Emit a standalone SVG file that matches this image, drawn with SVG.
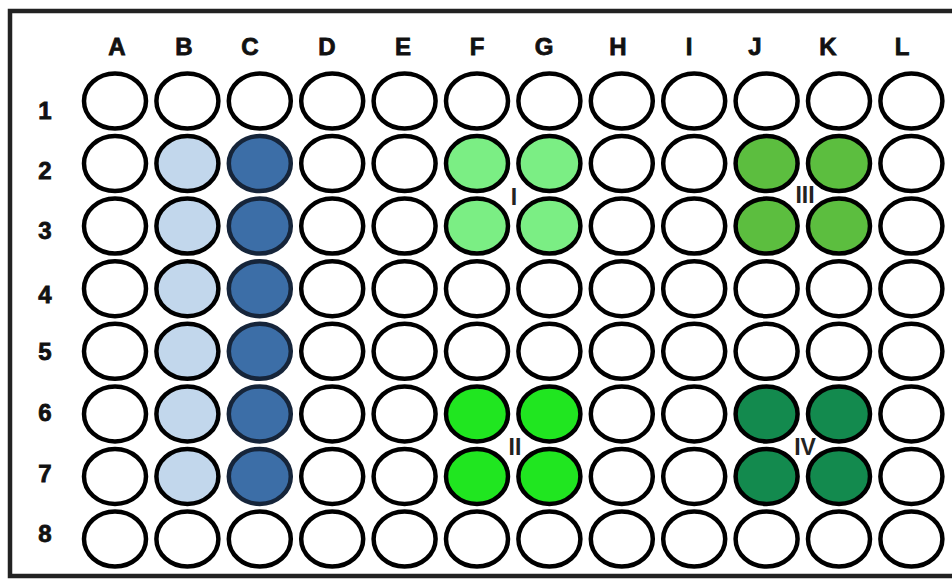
<svg xmlns="http://www.w3.org/2000/svg" width="952" height="581" viewBox="0 0 952 581">
<style>
.lbl{font-family:"Liberation Sans",Arial,sans-serif;font-weight:bold;font-size:24px;fill:#111;stroke:#111;stroke-width:0.8;text-anchor:middle}
.grp{font-family:"Liberation Sans",Arial,sans-serif;font-weight:bold;font-size:23px;fill:#222;text-anchor:middle}
.w{stroke:#000;stroke-width:4.5;fill:#fff}
.b1{fill:#c2d7ec}
.b2{fill:#3c6ea7;stroke:#16253a}
.g1{fill:#7bee84}
.g2{fill:#5cbe3f}
.g3{fill:#20e620}
.g4{fill:#138a4e}
</style>
<defs>
<ellipse id="well" cx="0" cy="0" rx="31" ry="27.5"/>
</defs>
<rect x="0" y="0" width="952" height="581" fill="#fff"/>
<rect x="10" y="11" width="960" height="565" fill="#fff" stroke="#222" stroke-width="4.5"/>
<g id="col-labels">
<text class="lbl" x="117" y="55">A</text>
<text class="lbl" x="184" y="55">B</text>
<text class="lbl" x="250" y="55">C</text>
<text class="lbl" x="327" y="55">D</text>
<text class="lbl" x="403" y="55">E</text>
<text class="lbl" x="477" y="55">F</text>
<text class="lbl" x="544" y="55">G</text>
<text class="lbl" x="618" y="55">H</text>
<text class="lbl" x="689" y="55">I</text>
<text class="lbl" x="755" y="55">J</text>
<text class="lbl" x="828" y="55">K</text>
<text class="lbl" x="902" y="55">L</text>
</g>
<g id="row-labels">
<text class="lbl" x="45" y="119">1</text>
<text class="lbl" x="45" y="179">2</text>
<text class="lbl" x="45" y="239">3</text>
<text class="lbl" x="45" y="303">4</text>
<text class="lbl" x="45" y="360">5</text>
<text class="lbl" x="45" y="421">6</text>
<text class="lbl" x="45" y="482">7</text>
<text class="lbl" x="45" y="542">8</text>
</g>
<g id="row1">
<use href="#well" class="w" x="115" y="101"/><use href="#well" class="w" x="187.4" y="101"/><use href="#well" class="w" x="259.8" y="101"/><use href="#well" class="w" x="332.2" y="101"/><use href="#well" class="w" x="404.6" y="101"/><use href="#well" class="w" x="477" y="101"/><use href="#well" class="w" x="549.4" y="101"/><use href="#well" class="w" x="621.8" y="101"/><use href="#well" class="w" x="694.2" y="101"/><use href="#well" class="w" x="766.6" y="101"/><use href="#well" class="w" x="839" y="101"/><use href="#well" class="w" x="911.4" y="101"/>
</g>
<g id="row2">
<use href="#well" class="w" x="115" y="163.6"/><use href="#well" class="w b1" x="187.4" y="163.6"/><use href="#well" class="w b2" x="259.8" y="163.6"/><use href="#well" class="w" x="332.2" y="163.6"/><use href="#well" class="w" x="404.6" y="163.6"/><use href="#well" class="w g1" x="477" y="163.6"/><use href="#well" class="w g1" x="549.4" y="163.6"/><use href="#well" class="w" x="621.8" y="163.6"/><use href="#well" class="w" x="694.2" y="163.6"/><use href="#well" class="w g2" x="766.6" y="163.6"/><use href="#well" class="w g2" x="839" y="163.6"/><use href="#well" class="w" x="911.4" y="163.6"/>
</g>
<g id="row3">
<use href="#well" class="w" x="115" y="226.1"/><use href="#well" class="w b1" x="187.4" y="226.1"/><use href="#well" class="w b2" x="259.8" y="226.1"/><use href="#well" class="w" x="332.2" y="226.1"/><use href="#well" class="w" x="404.6" y="226.1"/><use href="#well" class="w g1" x="477" y="226.1"/><use href="#well" class="w g1" x="549.4" y="226.1"/><use href="#well" class="w" x="621.8" y="226.1"/><use href="#well" class="w" x="694.2" y="226.1"/><use href="#well" class="w g2" x="766.6" y="226.1"/><use href="#well" class="w g2" x="839" y="226.1"/><use href="#well" class="w" x="911.4" y="226.1"/>
</g>
<g id="row4">
<use href="#well" class="w" x="115" y="288.7"/><use href="#well" class="w b1" x="187.4" y="288.7"/><use href="#well" class="w b2" x="259.8" y="288.7"/><use href="#well" class="w" x="332.2" y="288.7"/><use href="#well" class="w" x="404.6" y="288.7"/><use href="#well" class="w" x="477" y="288.7"/><use href="#well" class="w" x="549.4" y="288.7"/><use href="#well" class="w" x="621.8" y="288.7"/><use href="#well" class="w" x="694.2" y="288.7"/><use href="#well" class="w" x="766.6" y="288.7"/><use href="#well" class="w" x="839" y="288.7"/><use href="#well" class="w" x="911.4" y="288.7"/>
</g>
<g id="row5">
<use href="#well" class="w" x="115" y="351.3"/><use href="#well" class="w b1" x="187.4" y="351.3"/><use href="#well" class="w b2" x="259.8" y="351.3"/><use href="#well" class="w" x="332.2" y="351.3"/><use href="#well" class="w" x="404.6" y="351.3"/><use href="#well" class="w" x="477" y="351.3"/><use href="#well" class="w" x="549.4" y="351.3"/><use href="#well" class="w" x="621.8" y="351.3"/><use href="#well" class="w" x="694.2" y="351.3"/><use href="#well" class="w" x="766.6" y="351.3"/><use href="#well" class="w" x="839" y="351.3"/><use href="#well" class="w" x="911.4" y="351.3"/>
</g>
<g id="row6">
<use href="#well" class="w" x="115" y="413.9"/><use href="#well" class="w b1" x="187.4" y="413.9"/><use href="#well" class="w b2" x="259.8" y="413.9"/><use href="#well" class="w" x="332.2" y="413.9"/><use href="#well" class="w" x="404.6" y="413.9"/><use href="#well" class="w g3" x="477" y="413.9"/><use href="#well" class="w g3" x="549.4" y="413.9"/><use href="#well" class="w" x="621.8" y="413.9"/><use href="#well" class="w" x="694.2" y="413.9"/><use href="#well" class="w g4" x="766.6" y="413.9"/><use href="#well" class="w g4" x="839" y="413.9"/><use href="#well" class="w" x="911.4" y="413.9"/>
</g>
<g id="row7">
<use href="#well" class="w" x="115" y="476.4"/><use href="#well" class="w b1" x="187.4" y="476.4"/><use href="#well" class="w b2" x="259.8" y="476.4"/><use href="#well" class="w" x="332.2" y="476.4"/><use href="#well" class="w" x="404.6" y="476.4"/><use href="#well" class="w g3" x="477" y="476.4"/><use href="#well" class="w g3" x="549.4" y="476.4"/><use href="#well" class="w" x="621.8" y="476.4"/><use href="#well" class="w" x="694.2" y="476.4"/><use href="#well" class="w g4" x="766.6" y="476.4"/><use href="#well" class="w g4" x="839" y="476.4"/><use href="#well" class="w" x="911.4" y="476.4"/>
</g>
<g id="row8">
<use href="#well" class="w" x="115" y="539"/><use href="#well" class="w" x="187.4" y="539"/><use href="#well" class="w" x="259.8" y="539"/><use href="#well" class="w" x="332.2" y="539"/><use href="#well" class="w" x="404.6" y="539"/><use href="#well" class="w" x="477" y="539"/><use href="#well" class="w" x="549.4" y="539"/><use href="#well" class="w" x="621.8" y="539"/><use href="#well" class="w" x="694.2" y="539"/><use href="#well" class="w" x="766.6" y="539"/><use href="#well" class="w" x="839" y="539"/><use href="#well" class="w" x="911.4" y="539"/>
</g>
<g id="group-labels">
<text class="grp" x="514" y="205">I</text>
<text class="grp" x="515" y="455">II</text>
<text class="grp" x="805" y="203">III</text>
<text class="grp" x="805" y="455">IV</text>
</g>
</svg>
